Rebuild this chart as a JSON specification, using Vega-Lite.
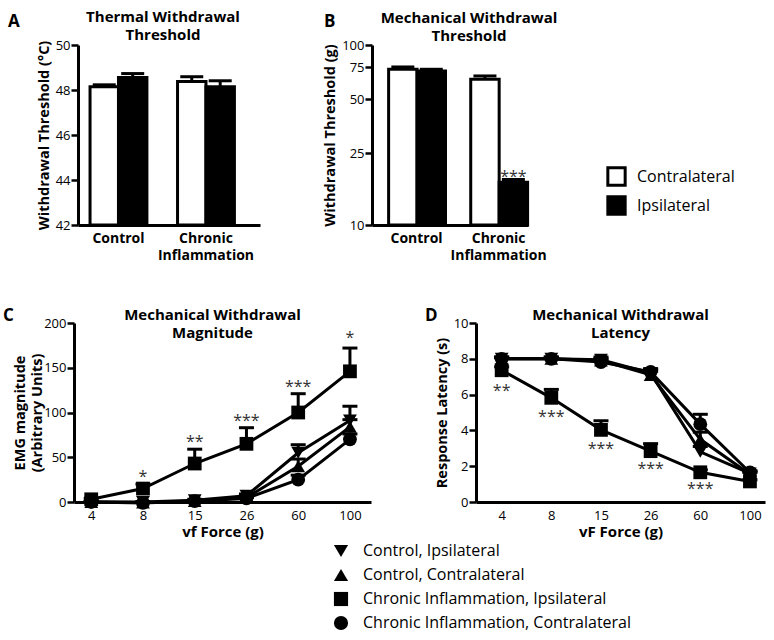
{
  "$schema": "https://vega.github.io/schema/vega-lite/v6.json",
  "background": "white",
  "padding": {"left": 3, "top": 10, "right": 5, "bottom": 5},
  "config": {
    "font": "Open Sans",
    "view": {"stroke": null},
    "axis": {"grid": false, "domainColor": "black", "domainWidth": 3, "tickColor": "black", "tickWidth": 2.5, "tickSize": 7, "labelColor": "black", "titleColor": "black", "labelFontSize": 13, "titleFontSize": 14.5, "titleFontWeight": "bold", "labelPadding": 1, "labelOverlap": false},
    "title": {"fontSize": 15, "fontWeight": "bold", "color": "black", "lineHeight": 18},
    "legend": {"padding": 0, "labelFontSize": 16, "labelColor": "black", "labelLimit": 400}
  },
  "spacing": 278,
  "bounds": "flush",
  "resolve": {"scale": {"fill": "independent", "shape": "independent"}, "legend": {"fill": "independent", "shape": "independent"}},
  "vconcat": [
    {
      "spacing": 0,
      "bounds": "flush",
      "resolve": {"scale": {"fill": "independent", "shape": "independent"}, "legend": {"fill": "independent", "shape": "independent"}},
      "hconcat": [
        {"width": 5, "height": 180, "title": {"text": "A", "anchor": "start", "frame": "group", "dx": -65, "offset": 14.5, "fontSize": 17}, "data": {"values": []}, "mark": "point", "encoding": {}},
        {
          "width": 182,
          "height": 180,
          "title": {"text": ["Thermal Withdrawal", "Threshold"], "anchor": "middle", "frame": "group", "dx": -6, "offset": -5},
          "data": {"values": [
            {"group": "Control", "side": "Contralateral", "value": 48.14, "upper": 48.23},
            {"group": "Control", "side": "Ipsilateral", "value": 48.56, "upper": 48.73},
            {"group": "Chronic Inflammation", "side": "Contralateral", "value": 48.38, "upper": 48.59},
            {"group": "Chronic Inflammation", "side": "Ipsilateral", "value": 48.14, "upper": 48.41}
          ]},
          "encoding": {
            "x": {"field": "group", "type": "nominal", "sort": ["Control", "Chronic Inflammation"], "scale": {"paddingInner": 0.35, "paddingOuter": 0.215, "align": 0.32}, "axis": {"title": null, "ticks": false, "labelAngle": 0, "labelFontWeight": "bold", "labelFontSize": 14, "labelPadding": 6, "labelLineHeight": 17, "labelExpr": "datum.value == 'Chronic Inflammation' ? ['Chronic', 'Inflammation'] : datum.value"}},
            "xOffset": {"field": "side", "type": "nominal", "sort": ["Contralateral", "Ipsilateral"], "scale": {"paddingInner": 0, "paddingOuter": 0}}
          },
          "layer": [
            {"mark": {"type": "bar", "stroke": "black", "strokeWidth": 3},
             "encoding": {
               "y": {"field": "value", "type": "quantitative", "title": "Withdrawal Threshold  (°C)", "scale": {"domain": [42, 50]}, "axis": {"values": [42, 44, 46, 48, 50]}},
               "y2": {"datum": 42},
               "fill": {"field": "side", "type": "nominal", "scale": {"domain": ["Contralateral", "Ipsilateral"], "range": ["white", "black"]}, "legend": null}
             }},
            {"mark": {"type": "rule", "strokeWidth": 3, "color": "black"},
             "encoding": {"y": {"field": "value", "type": "quantitative", "title": "Withdrawal Threshold  (°C)"}, "y2": {"field": "upper"}}},
            {"mark": {"type": "tick", "thickness": 3, "size": 23, "color": "black", "opacity": 1},
             "encoding": {"y": {"field": "upper", "type": "quantitative", "title": "Withdrawal Threshold  (°C)"}}}
          ]
        },
        {"width": 112, "height": 180, "title": {"text": "B", "anchor": "start", "frame": "group", "dx": 64, "offset": 14.5, "fontSize": 17}, "data": {"values": []}, "mark": "point", "encoding": {}},
        {
          "width": 156,
          "height": 180,
          "title": {"text": ["Mechanical Withdrawal", "Threshold"], "anchor": "middle", "frame": "group", "dx": 19, "offset": -5},
          "data": {"values": [
            {"group": "Control", "side": "Contralateral", "value": 73.3, "upper": 75.5},
            {"group": "Control", "side": "Ipsilateral", "value": 71.7, "upper": 73.3},
            {"group": "Chronic Inflammation", "side": "Contralateral", "value": 64.6, "upper": 67.3},
            {"group": "Chronic Inflammation", "side": "Ipsilateral", "value": 17.3, "upper": 17.9}
          ]},
          "encoding": {
            "x": {"field": "group", "type": "nominal", "sort": ["Control", "Chronic Inflammation"], "scale": {"paddingInner": 0.32, "paddingOuter": 0.11, "align": 0.92}, "axis": {"title": null, "ticks": false, "labelAngle": 0, "labelFontWeight": "bold", "labelFontSize": 14, "labelPadding": 6, "labelLineHeight": 17, "labelExpr": "datum.value == 'Chronic Inflammation' ? ['Chronic', 'Inflammation'] : datum.value"}},
            "xOffset": {"field": "side", "type": "nominal", "sort": ["Contralateral", "Ipsilateral"], "scale": {"paddingInner": 0, "paddingOuter": 0}}
          },
          "layer": [
            {"mark": {"type": "bar", "stroke": "black", "strokeWidth": 3},
             "encoding": {
               "y": {"field": "value", "type": "quantitative", "title": "Withdrawal Threshold  (g)", "scale": {"type": "log", "domain": [10, 100]}, "axis": {"values": [10, 25, 50, 75, 100]}},
               "y2": {"datum": 10},
               "fill": {"field": "side", "type": "nominal", "scale": {"domain": ["Contralateral", "Ipsilateral"], "range": ["white", "black"]},
                 "legend": {"orient": "none", "legendX": 234, "legendY": 121, "title": null, "symbolType": "square", "symbolSize": 300, "symbolStrokeColor": "black", "symbolStrokeWidth": 3, "labelFontSize": 16, "labelOffset": 10, "rowPadding": -2}}
             }},
            {"mark": {"type": "rule", "strokeWidth": 3, "color": "black"},
             "encoding": {"y": {"field": "value", "type": "quantitative", "title": "Withdrawal Threshold  (g)"}, "y2": {"field": "upper"}}},
            {"mark": {"type": "tick", "thickness": 3, "size": 23, "color": "black", "opacity": 1},
             "encoding": {"y": {"field": "upper", "type": "quantitative", "title": "Withdrawal Threshold  (g)"}}},
            {"data": {"values": [{"group": "Chronic Inflammation", "side": "Ipsilateral", "pos": 19.5, "label": "***"}]},
             "mark": {"type": "text", "fontSize": 16, "color": "#333", "baseline": "alphabetic", "dy": 9},
             "encoding": {"y": {"field": "pos", "type": "quantitative", "title": "Withdrawal Threshold  (g)"}, "text": {"field": "label"}}}
          ]
        }
      ]
    },
    {
      "spacing": 0,
      "bounds": "flush",
      "resolve": {"scale": {"fill": "independent", "shape": "independent"}, "legend": {"fill": "independent", "shape": "independent"}},
      "hconcat": [
        {"width": 1, "height": 179, "title": {"text": "C", "anchor": "start", "frame": "group", "dx": -70, "offset": -2, "fontSize": 17}, "data": {"values": []}, "mark": "point", "encoding": {}},
        {
          "width": 297,
          "height": 179,
          "title": {"text": ["Mechanical Withdrawal", "Magnitude"], "anchor": "middle", "frame": "group", "dx": -10, "offset": -24},
          "data": {"values": [
            {"force": 4, "series": "Control, Ipsilateral", "value": 0, "upper": 0.5},
            {"force": 8, "series": "Control, Ipsilateral", "value": 0, "upper": 0.5},
            {"force": 15, "series": "Control, Ipsilateral", "value": 2, "upper": 3},
            {"force": 26, "series": "Control, Ipsilateral", "value": 7, "upper": 9},
            {"force": 60, "series": "Control, Ipsilateral", "value": 55, "upper": 64},
            {"force": 100, "series": "Control, Ipsilateral", "value": 91, "upper": 107},
            {"force": 4, "series": "Control, Contralateral", "value": 0, "upper": 0.5},
            {"force": 8, "series": "Control, Contralateral", "value": -0.5, "upper": 0},
            {"force": 15, "series": "Control, Contralateral", "value": 1, "upper": 1.5},
            {"force": 26, "series": "Control, Contralateral", "value": 5, "upper": 7},
            {"force": 60, "series": "Control, Contralateral", "value": 40, "upper": 48},
            {"force": 100, "series": "Control, Contralateral", "value": 84, "upper": 92},
            {"force": 4, "series": "Chronic Inflammation, Ipsilateral", "value": 3, "upper": 4},
            {"force": 8, "series": "Chronic Inflammation, Ipsilateral", "value": 15, "upper": 20},
            {"force": 15, "series": "Chronic Inflammation, Ipsilateral", "value": 43, "upper": 59},
            {"force": 26, "series": "Chronic Inflammation, Ipsilateral", "value": 65, "upper": 83},
            {"force": 60, "series": "Chronic Inflammation, Ipsilateral", "value": 100, "upper": 121},
            {"force": 100, "series": "Chronic Inflammation, Ipsilateral", "value": 146, "upper": 172},
            {"force": 4, "series": "Chronic Inflammation, Contralateral", "value": 0, "upper": 0.5},
            {"force": 8, "series": "Chronic Inflammation, Contralateral", "value": -1, "upper": -0.5},
            {"force": 15, "series": "Chronic Inflammation, Contralateral", "value": 1, "upper": 1.5},
            {"force": 26, "series": "Chronic Inflammation, Contralateral", "value": 4, "upper": 5},
            {"force": 60, "series": "Chronic Inflammation, Contralateral", "value": 25, "upper": 30},
            {"force": 100, "series": "Chronic Inflammation, Contralateral", "value": 70, "upper": 76}
          ]},
          "encoding": {
            "x": {"field": "force", "type": "ordinal", "scale": {"type": "point", "padding": 0.37, "align": 0.45}, "axis": {"title": "vf Force (g)", "ticks": false, "labelAngle": 0, "labelPadding": 7, "titleFontSize": 15, "titlePadding": 2}}
          },
          "layer": [
            {"mark": {"type": "line", "strokeWidth": 3, "color": "black"},
             "encoding": {"y": {"field": "value", "type": "quantitative", "title": ["EMG magnitude", "(Arbitrary Units)"], "scale": {"domain": [0, 200]}, "axis": {"values": [0, 50, 100, 150, 200], "titleLineHeight": 17, "titlePadding": -1}}, "detail": {"field": "series"}, "order": {"value": null}}},
            {"mark": {"type": "rule", "strokeWidth": 3, "color": "black"},
             "encoding": {"y": {"field": "value", "type": "quantitative"}, "y2": {"field": "upper"}}},
            {"mark": {"type": "tick", "thickness": 3, "size": 15, "color": "black", "opacity": 1},
             "encoding": {"y": {"field": "upper", "type": "quantitative"}}},
            {"mark": {"type": "point", "filled": true, "size": 190, "color": "black", "opacity": 1},
             "encoding": {"y": {"field": "value", "type": "quantitative"},
               "shape": {"field": "series", "type": "nominal", "scale": {"domain": ["Control, Ipsilateral", "Control, Contralateral", "Chronic Inflammation, Ipsilateral", "Chronic Inflammation, Contralateral"], "range": ["triangle-down", "triangle-up", "square", "circle"]}, "legend": null}}},
            {"data": {"values": [
              {"force": 8, "pos": 32, "label": "*"},
              {"force": 15, "pos": 72, "label": "**"},
              {"force": 26, "pos": 95, "label": "***"},
              {"force": 60, "pos": 133, "label": "***"},
              {"force": 100, "pos": 188, "label": "*"}
             ]},
             "mark": {"type": "text", "fontSize": 16, "color": "#333", "baseline": "alphabetic", "dy": 9},
             "encoding": {"y": {"field": "pos", "type": "quantitative"}, "text": {"field": "label"}}}
          ]
        },
        {"width": 105, "height": 179, "title": {"text": "D", "anchor": "start", "frame": "group", "dx": 54, "offset": -2, "fontSize": 17}, "data": {"values": []}, "mark": "point", "encoding": {}},
        {
          "width": 289,
          "height": 179,
          "title": {"text": ["Mechanical Withdrawal", "Latency"], "anchor": "middle", "frame": "group", "dx": 0, "offset": -24},
          "data": {"values": [
            {"force": 4, "series": "Control, Ipsilateral", "value": 8.0, "upper": 8.1},
            {"force": 8, "series": "Control, Ipsilateral", "value": 8.0, "upper": 8.1},
            {"force": 15, "series": "Control, Ipsilateral", "value": 7.95, "upper": 8.1},
            {"force": 26, "series": "Control, Ipsilateral", "value": 7.2, "upper": 7.4},
            {"force": 60, "series": "Control, Ipsilateral", "value": 2.8, "upper": 3.1},
            {"force": 100, "series": "Control, Ipsilateral", "value": 1.6, "upper": 1.7},
            {"force": 4, "series": "Control, Contralateral", "value": 8.0, "upper": 8.05},
            {"force": 8, "series": "Control, Contralateral", "value": 8.0, "upper": 8.05},
            {"force": 15, "series": "Control, Contralateral", "value": 7.9, "upper": 8.0},
            {"force": 26, "series": "Control, Contralateral", "value": 7.1, "upper": 7.3},
            {"force": 60, "series": "Control, Contralateral", "value": 3.5, "upper": 3.9},
            {"force": 100, "series": "Control, Contralateral", "value": 1.55, "upper": 1.65},
            {"force": 4, "series": "Chronic Inflammation, Ipsilateral", "value": 7.36, "upper": 7.55},
            {"force": 8, "series": "Chronic Inflammation, Ipsilateral", "value": 5.82, "upper": 6.29},
            {"force": 15, "series": "Chronic Inflammation, Ipsilateral", "value": 4.03, "upper": 4.54},
            {"force": 26, "series": "Chronic Inflammation, Ipsilateral", "value": 2.84, "upper": 3.26},
            {"force": 60, "series": "Chronic Inflammation, Ipsilateral", "value": 1.66, "upper": 1.8},
            {"force": 100, "series": "Chronic Inflammation, Ipsilateral", "value": 1.15, "upper": 1.24},
            {"force": 4, "series": "Chronic Inflammation, Contralateral", "value": 8.0, "upper": 8.1},
            {"force": 8, "series": "Chronic Inflammation, Contralateral", "value": 8.0, "upper": 8.1},
            {"force": 15, "series": "Chronic Inflammation, Contralateral", "value": 7.82, "upper": 7.95},
            {"force": 26, "series": "Chronic Inflammation, Contralateral", "value": 7.27, "upper": 7.45},
            {"force": 60, "series": "Chronic Inflammation, Contralateral", "value": 4.35, "upper": 4.9},
            {"force": 100, "series": "Chronic Inflammation, Contralateral", "value": 1.65, "upper": 1.75}
          ]},
          "encoding": {
            "x": {"field": "force", "type": "ordinal", "scale": {"type": "point", "padding": 0.41, "align": 0.63}, "axis": {"title": "vF Force (g)", "ticks": false, "labelAngle": 0, "labelPadding": 7, "titleFontSize": 15, "titlePadding": 2}}
          },
          "layer": [
            {"mark": {"type": "line", "strokeWidth": 3, "color": "black"},
             "encoding": {"y": {"field": "value", "type": "quantitative", "title": "Response Latency (s)", "scale": {"domain": [0, 10]}, "axis": {"values": [0, 2, 4, 6, 8, 10], "tickCount": 6, "labelOverlap": false}}, "detail": {"field": "series"}, "order": {"value": null}}},
            {"mark": {"type": "rule", "strokeWidth": 3, "color": "black"},
             "encoding": {"y": {"field": "value", "type": "quantitative", "title": "Response Latency (s)", "axis": {"values": [0, 2, 4, 6, 8, 10], "tickCount": 6, "labelOverlap": false}}, "y2": {"field": "upper"}}},
            {"mark": {"type": "tick", "thickness": 3, "size": 15, "color": "black", "opacity": 1},
             "encoding": {"y": {"field": "upper", "type": "quantitative", "title": "Response Latency (s)", "axis": {"values": [0, 2, 4, 6, 8, 10], "tickCount": 6, "labelOverlap": false}}}},
            {"mark": {"type": "point", "filled": true, "size": 190, "color": "black", "opacity": 1},
             "encoding": {"y": {"field": "value", "type": "quantitative", "title": "Response Latency (s)", "axis": {"values": [0, 2, 4, 6, 8, 10], "tickCount": 6, "labelOverlap": false}},
               "shape": {"field": "series", "type": "nominal", "scale": {"domain": ["Control, Ipsilateral", "Control, Contralateral", "Chronic Inflammation, Ipsilateral", "Chronic Inflammation, Contralateral"], "range": ["triangle-down", "triangle-up", "square", "circle"]},
                 "legend": {"orient": "none", "legendX": -143, "legendY": 220, "title": null, "symbolSize": 200, "symbolFillColor": "black", "symbolStrokeWidth": 0, "labelFontSize": 16, "labelOffset": 14, "rowPadding": 8}}}},
            {"data": {"values": [
              {"force": 4, "pos": 6.42, "label": "**"},
              {"force": 8, "pos": 4.97, "label": "***"},
              {"force": 15, "pos": 3.18, "label": "***"},
              {"force": 26, "pos": 2.05, "label": "***"},
              {"force": 60, "pos": 0.96, "label": "***"}
             ]},
             "mark": {"type": "text", "fontSize": 16, "color": "#333", "baseline": "alphabetic", "dy": 9},
             "encoding": {"y": {"field": "pos", "type": "quantitative", "title": "Response Latency (s)", "axis": {"values": [0, 2, 4, 6, 8, 10], "tickCount": 6, "labelOverlap": false}}, "text": {"field": "label"}}}
          ]
        }
      ]
    }
  ]
}
